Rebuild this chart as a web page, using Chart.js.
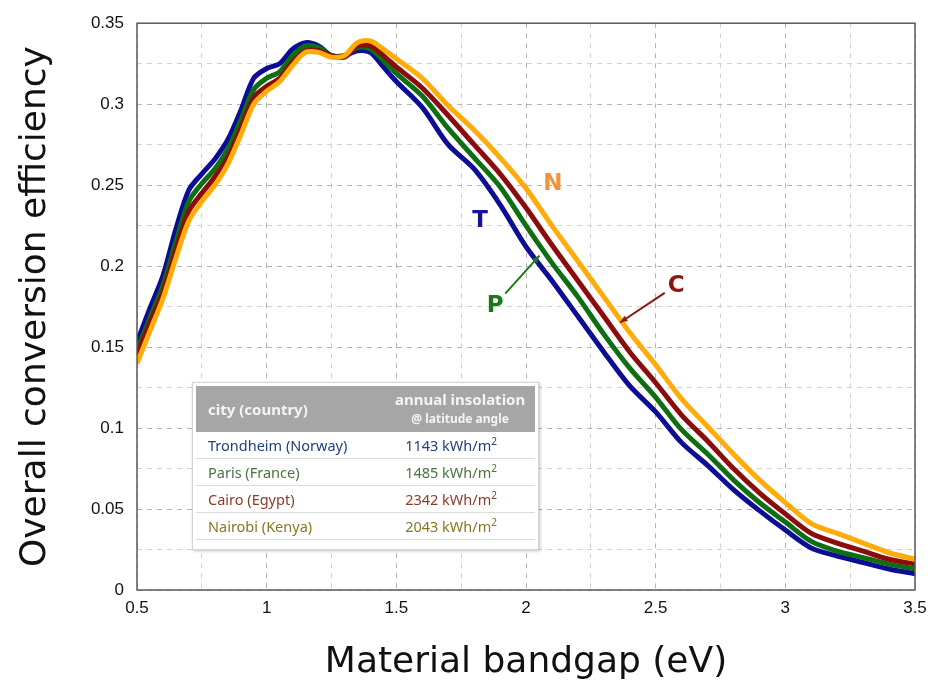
<!DOCTYPE html>
<html>
<head>
<meta charset="utf-8">
<script src="https://cdn.jsdelivr.net/npm/chart.js@4.4.0/dist/chart.umd.min.js"></script>
<style>
html, body { margin: 0; padding: 0; background: #fff; }
#wrap { position: relative; width: 935px; height: 684px; }
#tbl {
  position: absolute; left: 192px; top: 382px; width: 339px; height: 160px;
  background: #fff; border: 1px solid #d4d4d4; padding: 3px;
  box-shadow: 1px 1px 3px rgba(0,0,0,0.25);
  font-family: "Noto Sans", "Open Sans", sans-serif;
}
#tbl table { border-collapse: collapse; width: 100%; }
#tbl th { background: #a6a6a6; color: #f4f4f4; height: 46px; font-weight: bold; padding: 0; }
#tbl th.c1 { text-align: left; padding-left: 12px; font-size: 15px; }
#tbl th.c2 { text-align: center; font-size: 15px; line-height: 18px; padding-left: 18px; }
#tbl th.c2 span { font-size: 12px; }
#tbl td { height: 26px; border-bottom: 1px solid #dcdcdc; font-size: 14.5px; padding: 0; }
#tbl td.c1 { padding-left: 12px; }
#tbl td.c2 { text-align: center; padding-left: 0px; }
#tbl sup { font-size: 10px; line-height: 0; }
</style>
</head>
<body>
<div id="wrap">
  <canvas id="grafico" width="935" height="684"></canvas>
  <div id="tbl"></div>
</div>
<script>
// bandgap values (eV)
const bandgap = [0.5, 0.55, 0.6, 0.65, 0.7, 0.75, 0.8, 0.85, 0.9, 0.95, 1.0, 1.05, 1.1, 1.15, 1.2, 1.25, 1.3, 1.35, 1.4, 1.45, 1.5,
  1.6, 1.7, 1.8, 1.9, 2.0, 2.1, 2.2, 2.3, 2.4, 2.5, 2.6, 2.7, 2.8, 2.9, 3.0, 3.1, 3.2, 3.3, 3.4, 3.5];

const trondheim = [0.153, 0.174, 0.194, 0.223, 0.247, 0.257, 0.266, 0.278, 0.296, 0.316, 0.322, 0.325, 0.334, 0.338, 0.336, 0.330, 0.330, 0.333, 0.332, 0.323, 0.314,
  0.298, 0.275, 0.260, 0.238, 0.212, 0.191, 0.169, 0.147, 0.126, 0.110, 0.091, 0.077, 0.062, 0.049, 0.037, 0.026, 0.021, 0.017, 0.013, 0.010];
const paris = [0.148, 0.168, 0.188, 0.215, 0.240, 0.251, 0.260, 0.272, 0.290, 0.309, 0.316, 0.320, 0.330, 0.336, 0.335, 0.330, 0.330, 0.335, 0.334, 0.327, 0.319,
  0.305, 0.285, 0.267, 0.249, 0.225, 0.202, 0.181, 0.158, 0.137, 0.119, 0.099, 0.084, 0.068, 0.054, 0.042, 0.030, 0.024, 0.020, 0.016, 0.013];
const cairo = [0.145, 0.165, 0.184, 0.210, 0.234, 0.245, 0.255, 0.267, 0.285, 0.304, 0.311, 0.316, 0.326, 0.333, 0.333, 0.330, 0.329, 0.336, 0.336, 0.330, 0.323,
  0.310, 0.293, 0.275, 0.257, 0.236, 0.213, 0.191, 0.169, 0.147, 0.128, 0.108, 0.092, 0.075, 0.060, 0.047, 0.035, 0.029, 0.024, 0.019, 0.016];
const nairobi = [0.140, 0.160, 0.180, 0.205, 0.228, 0.240, 0.250, 0.263, 0.281, 0.300, 0.308, 0.314, 0.324, 0.332, 0.332, 0.329, 0.330, 0.338, 0.339, 0.334, 0.328,
  0.316, 0.299, 0.284, 0.267, 0.248, 0.225, 0.203, 0.181, 0.159, 0.139, 0.118, 0.101, 0.084, 0.068, 0.054, 0.041, 0.035, 0.029, 0.023, 0.019];

const ciudades = ['Trondheim (Norway)', 'Paris (France)', 'Cairo (Egypt)', 'Nairobi (Kenya)'];
const insolacion = [1143, 1485, 2342, 2043];
const letras = ['T', 'P', 'C', 'N'];

const coloresLinea = ['#0c0c94', '#0f6e12', '#8a0c0c', '#ffab0a'];
const coloresLetra = ['#14149a', '#1a7a1a', '#8b1414', '#f0943c'];
const coloresTabla = ['#22407e', '#4a7440', '#8e3a28', '#8a7622'];

// tabla de insolacion
let html = '<table><tr><th class="c1">city (country)</th><th class="c2">annual insolation<br><span>@ latitude angle</span></th></tr>';
ciudades.forEach((c, i) => {
  html += '<tr style="color:' + coloresTabla[i] + '"><td class="c1">' + c + '</td><td class="c2">' +
    insolacion[i] + ' kWh/m<sup>2</sup></td></tr>';
});
html += '</table>';
document.getElementById('tbl').innerHTML = html;

// posiciones de las letras y flechas (en unidades de los ejes)
const posLetras = [[1.823, 0.228], [1.881, 0.1755], [2.579, 0.1875], [2.104, 0.2505]];
const flechas = [null, [1.92, 0.183, 2.052, 0.2065], [2.535, 0.1835, 2.363, 0.1652], null];

const series = [trondheim, paris, cairo, nairobi];

const esMayor = (v, paso) => Math.abs(v / paso - Math.round(v / paso)) < 1e-6;

const anotaciones = {
  id: 'anotaciones',
  afterDatasetsDraw(chart) {
    const { ctx, chartArea: a, scales: { x, y } } = chart;
    ctx.save();
    ctx.strokeStyle = '#5a5a5a';
    ctx.lineWidth = 1.5;
    ctx.strokeRect(a.left, a.top, a.right - a.left, a.bottom - a.top);

    flechas.forEach((f, i) => {
      if (!f) return;
      const x1 = x.getPixelForValue(f[0]), y1 = y.getPixelForValue(f[1]);
      const x2 = x.getPixelForValue(f[2]), y2 = y.getPixelForValue(f[3]);
      const ang = Math.atan2(y2 - y1, x2 - x1);
      ctx.strokeStyle = coloresLetra[i];
      ctx.fillStyle = coloresLetra[i];
      ctx.lineWidth = 2;
      ctx.beginPath(); ctx.moveTo(x1, y1); ctx.lineTo(x2, y2); ctx.stroke();
      ctx.beginPath();
      ctx.moveTo(x2, y2);
      ctx.lineTo(x2 - 8 * Math.cos(ang - 0.4), y2 - 8 * Math.sin(ang - 0.4));
      ctx.lineTo(x2 - 8 * Math.cos(ang + 0.4), y2 - 8 * Math.sin(ang + 0.4));
      ctx.closePath(); ctx.fill();
    });

    ctx.font = 'bold 23px "DejaVu Sans"';
    ctx.textAlign = 'center';
    ctx.textBaseline = 'middle';
    letras.forEach((l, i) => {
      ctx.fillStyle = coloresLetra[i];
      ctx.fillText(l, x.getPixelForValue(posLetras[i][0]), y.getPixelForValue(posLetras[i][1]));
    });
    ctx.restore();
  }
};

new Chart('grafico', {
  type: 'line',
  data: {
    datasets: series.map((s, i) => ({
      label: letras[i],
      data: bandgap.map((b, j) => ({ x: b, y: s[j] })),
      borderColor: coloresLinea[i],
      borderWidth: 5,
      pointRadius: 0,
      tension: 0.3,
      fill: false,
      order: 4 - i
    }))
  },
  options: {
    responsive: false,
    animation: false,
    layout: { padding: { left: 0, right: 20, top: 17, bottom: 0 } },
    plugins: { legend: { display: false }, tooltip: { enabled: false } },
    scales: {
      x: {
        type: 'linear', min: 0.5, max: 3.5,
        afterFit: s => { s.height = 94; },
        ticks: {
          stepSize: 0.25, autoSkip: false, maxRotation: 0, padding: 8,
          color: '#111', font: { family: '"Liberation Sans", Arial', size: 17 },
          callback: v => esMayor(v, 0.5) ? String(Number(v.toFixed(2))) : ''
        },
        grid: {
          drawTicks: false,
          color: c => esMayor(c.tick.value, 0.5) ? '#b4b4b4' : '#d2d2d2'
        },
        border: { display: false, dash: [5, 5] },
        title: {
          display: true, text: 'Material bandgap (eV)', color: '#111',
          font: { family: '"DejaVu Sans"', size: 36 }, padding: { top: 6, bottom: 0 }
        }
      },
      y: {
        min: 0, max: 0.35,
        afterFit: s => { s.width = 137; },
        ticks: {
          stepSize: 0.025, autoSkip: false, padding: 13,
          color: '#111', font: { family: '"Liberation Sans", Arial', size: 17 },
          callback: v => esMayor(v, 0.05) ? String(Number(v.toFixed(3))) : ''
        },
        grid: {
          drawTicks: false,
          color: c => esMayor(c.tick.value, 0.05) ? '#b4b4b4' : '#d2d2d2'
        },
        border: { display: false, dash: [5, 5] },
        title: {
          display: true, text: 'Overall conversion efficiency', color: '#111',
          font: { family: '"DejaVu Sans"', size: 36 }, padding: { top: 14, bottom: 0 }
        }
      }
    }
  },
  plugins: [anotaciones]
});
</script>
</body>
</html>
